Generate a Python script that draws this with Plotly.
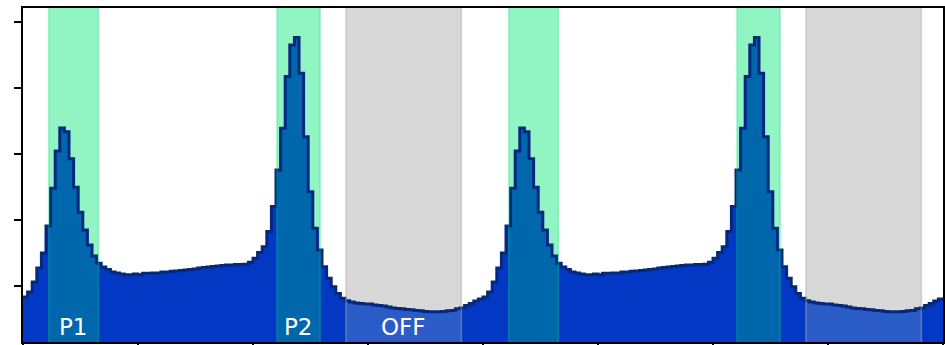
import numpy as np
import plotly.graph_objects as go

# Folded pulse profile: counts per phase bin (100 bins over one rotation)
profile = [
    165, 180, 211, 253, 299, 381, 496, 609, 679, 667,
    585, 499, 423, 369, 323, 290, 268, 256, 249, 241,
    238, 235, 233, 233, 235, 233, 237, 237, 238, 238,
    241, 241, 243, 244, 246, 247, 249, 250, 253, 255,
    256, 258, 259, 261, 262, 262, 264, 264, 265, 271,
    283, 300, 318, 364, 440, 551, 678, 835, 931, 954,
    845, 652, 485, 374, 308, 257, 222, 196, 176, 161,
    154, 150, 147, 145, 144, 144, 141, 139, 138, 135,
    132, 130, 129, 127, 126, 124, 123, 121, 120, 120,
    120, 121, 123, 124, 129, 132, 139, 145, 153, 159,
]
n_cycles = 2

# Phase windows: on-pulse components and off-pulse baseline
regions = {
    "P1": (0.056, 0.164),
    "P2": (0.552, 0.646),
    "OFF": (0.702, 0.953),
}
region_kind = {"P1": "on", "P2": "on", "OFF": "off"}

y_ticks = [200, 400, 600, 800, 1000]
x_ticks = [0, 0.25, 0.5, 0.75, 1.0, 1.25, 1.5, 1.75, 2.0]
y_range = [28.3, 1043.5]

BAR = "#0338c4"
EDGE = "#05287f"
ON_BG = "#90f5c2"
ON_BAR = "#0067ad"
OFF_BG = "#d8d8d8"
OFF_BAR = "#2b5bc7"

counts = np.array(profile * n_cycles, dtype=float)
nbins = len(counts)
edges = np.linspace(0, n_cycles, nbins + 1)

# step path: one point per left bin edge plus the closing right edge
step_x = edges
step_y = np.append(counts, counts[-1])


def clipped_steps(a, b):
    inner = edges[(edges > a) & (edges < b)]
    xs = np.concatenate([[a], inner, [b]])
    idx = np.clip(np.searchsorted(edges, xs, side="right") - 1, 0, nbins - 1)
    ys = counts[idx]
    ys[-1] = ys[-2]
    return xs, ys


fig = go.Figure()

# filled histogram body
fig.add_trace(go.Scatter(
    x=step_x, y=step_y, mode="lines", line=dict(shape="hv", width=0, color=BAR),
    fill="tozeroy", fillcolor=BAR, hoverinfo="skip", showlegend=False,
))

shapes = []
for cyc in range(n_cycles):
    for name, (a, b) in regions.items():
        a0, b0 = a + cyc, b + cyc
        on = region_kind[name] == "on"
        shapes.append(dict(
            type="rect", xref="x", yref="paper", x0=a0, x1=b0, y0=0, y1=1,
            fillcolor=ON_BG if on else OFF_BG, line=dict(width=0), layer="below",
        ))
        for xe in (a0, b0):
            shapes.append(dict(
                type="line", xref="x", yref="paper", x0=xe, x1=xe, y0=0, y1=1,
                line=dict(color="rgba(0,225,120,0.3)" if on else "rgba(170,170,170,0.45)", width=1.6),
                layer="above",
            ))
        xs, ys = clipped_steps(a0, b0)
        fig.add_trace(go.Scatter(
            x=xs, y=ys, mode="lines", line=dict(shape="hv", width=0),
            fill="tozeroy", fillcolor=ON_BAR if on else OFF_BAR,
            hoverinfo="skip", showlegend=False,
        ))

# histogram outline
fig.add_trace(go.Scatter(
    x=step_x, y=step_y, mode="lines", line=dict(shape="hv", width=3, color=EDGE),
    hoverinfo="skip", showlegend=False,
))

annotations = []
for name, (a, b) in regions.items():
    annotations.append(dict(
        x=(a + b) / 2, y=0.046, xref="x", yref="paper", text=name, showarrow=False,
        font=dict(family="DejaVu Sans", size=23, color="white"),
        xanchor="center", yanchor="middle",
    ))

axis_style = dict(
    showgrid=False, zeroline=False, showline=True, linecolor="black", linewidth=1.5,
    mirror=True, ticks="outside", ticklen=7, tickwidth=1.5, tickcolor="black",
    showticklabels=False, automargin=False,
)

fig.update_layout(
    width=945, height=345,
    margin=dict(l=23, r=2, t=8, b=3),
    paper_bgcolor="white", plot_bgcolor="white",
    shapes=shapes, annotations=annotations,
    xaxis=dict(range=[0, n_cycles], tickvals=x_ticks, **axis_style),
    yaxis=dict(range=y_range, tickvals=y_ticks, **axis_style),
)

fig.write_html("out.html")
